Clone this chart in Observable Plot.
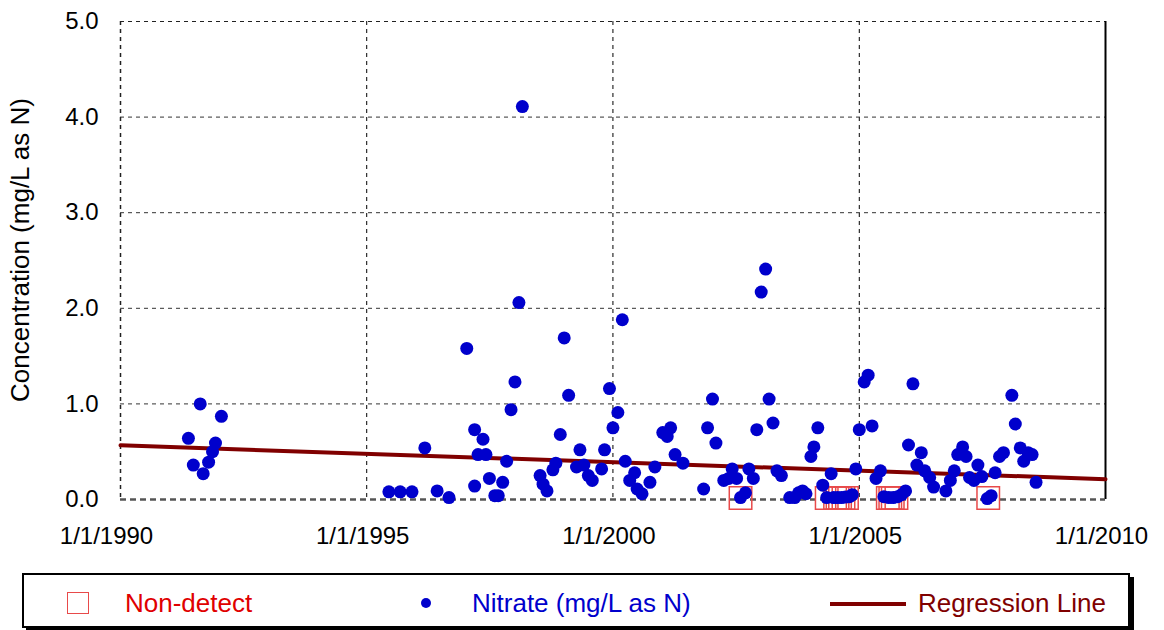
<!DOCTYPE html>
<html><head><meta charset="utf-8">
<script src="https://cdn.jsdelivr.net/npm/d3@7"></script>
<script src="https://cdn.jsdelivr.net/npm/@observablehq/plot@0.6"></script>
<style>
body{margin:0;background:#fff;font-family:"Liberation Sans",Arial,sans-serif;}
#wrap{position:relative;width:1164px;height:630px;}
#ylabel{position:absolute;left:20px;top:250px;transform:translate(-50%,-50%) rotate(-90deg);font-size:26px;line-height:26px;white-space:nowrap;color:#000;}
#legend{position:absolute;left:22px;top:573px;width:1104px;height:51px;border:2px solid #000;box-shadow:4px 4px 0 #000;background:#fff;}
.lg{position:absolute;font-size:26px;line-height:26px;top:15px;white-space:nowrap;}
</style></head><body>
<div id="wrap"><div id="chart"></div>
<div id="ylabel"></div>
<div id="legend">
  <div style="position:absolute;left:43px;top:17px;width:20px;height:20px;border:1.5px solid #e84a4a;"></div>
  <div class="lg" style="left:101px;color:#e00000;">Non-detect</div>
  <div style="position:absolute;left:397px;top:23px;width:10px;height:10px;border-radius:50%;background:#0000cc;"></div>
  <div class="lg" style="left:448px;color:#0000cc;">Nitrate (mg/L as N)</div>
  <div style="position:absolute;left:806px;top:27px;width:76px;height:4px;background:#800000;"></div>
  <div class="lg" style="left:894px;color:#800000;">Regression Line</div>
</div></div>
<script>
// Nitrate samples (decimal year, mg/L as N)
const nitrateYears = [
 1991.38,1991.48,1991.62,1991.68,1991.79,1991.87,1991.93,1992.05,
 1995.45,1995.68,1995.92,1996.18,1996.43,1996.67,1997.03,1997.19,1997.19,1997.26,1997.36,1997.42,
 1997.49,1997.60,1997.67,1997.76,1997.84,1997.93,1998.01,1998.09,1998.16,1998.52,1998.58,1998.66,
 1998.78,1998.84,1998.93,1999.01,1999.10,1999.26,1999.33,1999.41,1999.50,1999.58,1999.77,1999.83,
 1999.93,2000.00,2000.10,2000.19,2000.25,2000.34,2000.44,2000.49,2000.59,2000.75,2000.85,
 2001.01,2001.10,2001.17,2001.26,2001.42,2001.84,2001.92,2002.02,2002.09,2002.25,2002.35,2002.42,
 2002.51,2002.59,2002.69,2002.76,2002.85,2002.92,2003.01,2003.10,2003.17,2003.25,2003.33,2003.42,
 2003.59,2003.69,2003.77,2003.85,2003.92,2004.02,2004.08,2004.16,2004.26,2004.34,2004.43,
 2004.48,2004.56,2004.64,2004.72,2004.80,2004.86,2004.93,2005.00,2005.10,2005.18,2005.26,2005.34,2005.43,
 2005.50,2005.60,2005.69,2005.78,2005.86,2005.94,2006.00,2006.09,2006.17,2006.26,2006.33,2006.43,
 2006.51,2006.76,2006.85,2006.93,2007.00,2007.10,2007.17,2007.24,2007.33,2007.41,2007.49,
 2007.60,2007.68,2007.76,2007.85,2007.93,2008.10,2008.17,2008.27,2008.34,2008.43,2008.51,2008.59
];
const nitrateValues = [
 0.64,0.36,1.00,0.27,0.39,0.50,0.59,0.87,
 0.08,0.08,0.08,0.54,0.09,0.02,1.58,0.73,0.14,0.47,0.63,0.47,
 0.22,0.04,0.04,0.18,0.40,0.94,1.23,2.06,4.11,0.25,0.16,0.09,
 0.31,0.38,0.68,1.69,1.09,0.34,0.52,0.36,0.25,0.20,0.32,0.52,
 1.16,0.75,0.91,1.88,0.40,0.20,0.28,0.11,0.06,0.18,0.34,
 0.70,0.66,0.75,0.47,0.38,0.11,0.75,1.05,0.59,0.20,0.22,0.32,
 0.22,0.02,0.07,0.32,0.22,0.73,2.17,2.41,1.05,0.80,0.30,0.25,
 0.02,0.02,0.07,0.09,0.06,0.45,0.55,0.75,0.15,0.02,0.27,
 0.02,0.02,0.02,0.025,0.03,0.05,0.32,0.73,1.23,1.30,0.77,0.22,0.30,
 0.03,0.02,0.02,0.03,0.05,0.09,0.57,1.21,0.36,0.49,0.30,0.23,
 0.13,0.09,0.20,0.30,0.47,0.55,0.45,0.23,0.20,0.36,0.24,
 0.01,0.04,0.28,0.45,0.49,1.09,0.79,0.54,0.40,0.49,0.47,0.18
];
// Non-detect markers
const nonDetectYears = [2002.59,2004.34,2004.51,2004.56,2004.61,2004.68,2004.75,2005.58,2005.63,2005.68,2005.755,2007.62];
const nonDetectValues = [0.015,0.015,0.015,0.015,0.015,0.015,0.015,0.015,0.015,0.015,0.015,0.015];
// Regression line endpoints
const regressionYears = [1990, 2010];
const regressionValues = [0.567, 0.213];
// Axis ticks and label
const xTickYears = [1990, 1995, 2000, 2005, 2010];
const yTicks = [0, 1, 2, 3, 4, 5];
const yLabel = "Concentration (mg/L as N)";

document.getElementById("ylabel").textContent = yLabel;

function toDate(y){const yr=Math.floor(y);const s=Date.UTC(yr,0,1),e=Date.UTC(yr+1,0,1);return new Date(s+(y-yr)*(e-s));}
const nitrate = nitrateYears.map((y,i)=>({date:toDate(y), value:nitrateValues[i]}));
const nondetect = nonDetectYears.map((y,i)=>({date:toDate(y), value:nonDetectValues[i]}));
const regression = regressionYears.map((y,i)=>({date:toDate(y), value:regressionValues[i]}));
const xTicks = xTickYears.map(toDate);
const fmtX = d=>`1/1/${d.getUTCFullYear()}`;

const chart = Plot.plot({
  width:1164, height:565,
  marginLeft:120, marginRight:59, marginTop:21, marginBottom:66,
  style:{fontFamily:"'Liberation Sans',Arial,sans-serif", fontSize:"24px", color:"#000", background:"#fff"},
  x:{type:"utc", domain:[xTicks[0], xTicks[xTicks.length-1]]},
  y:{domain:[0,5]},
  marks:[
    Plot.gridX(xTicks.slice(1,-1), {stroke:"#000", strokeOpacity:1, strokeDasharray:"4,4", strokeWidth:1}),
    Plot.gridY(yTicks.slice(1,-1), {stroke:"#333", strokeOpacity:1, strokeDasharray:"4,4", strokeWidth:1}),
    Plot.ruleY([5], {stroke:"#222", strokeDasharray:"4,4", strokeWidth:1.2}),
    Plot.ruleX([xTicks[0]], {stroke:"#222", strokeDasharray:"4,4", strokeWidth:1.5}),
    Plot.ruleX([xTicks[xTicks.length-1]], {stroke:"#000", strokeWidth:2}),
    Plot.ruleY([0], {stroke:"#555", strokeDasharray:"6,4", strokeWidth:2.5}),
    Plot.axisX(xTicks.slice(0,1), {tickFormat:fmtX, tickSize:0, tickPadding:27, fontSize:24, label:null, dx:-14}),
    Plot.axisX(xTicks.slice(1), {tickFormat:fmtX, tickSize:0, tickPadding:27, fontSize:24, label:null, dx:-4}),
    Plot.axisY({ticks:yTicks, tickFormat:d3.format(".1f"), tickSize:0, tickPadding:22, fontSize:24, label:null}),
    Plot.line(regression, {x:"date", y:"value", stroke:"#800000", strokeWidth:4}),
    Plot.dot(nondetect, {x:"date", y:"value", symbol:"square", r:12.7, stroke:"#e84a4a", strokeWidth:1.5, fill:"none"}),
    Plot.dot(nitrate, {x:"date", y:"value", r:6.5, fill:"#0000cc", stroke:"none"})
  ]
});
document.getElementById("chart").appendChild(chart);
</script>
</body></html>
